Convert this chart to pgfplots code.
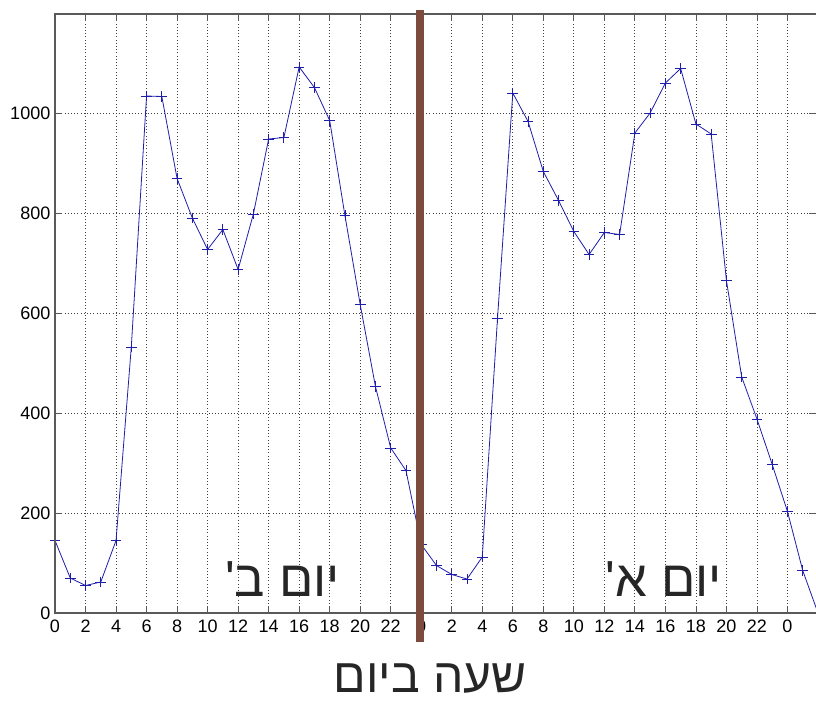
\documentclass[border=0pt]{standalone}
\usepackage{fontspec}
\setmainfont{Liberation Sans}
\newfontfamily\hebfont[Script=Hebrew]{Liberation Sans}
\usepackage{pgfplots}
\pgfplotsset{compat=1.18}
\TeXXeTstate=1
\definecolor{curve}{RGB}{30,30,170}
\definecolor{divider}{RGB}{125,74,62}

% hourly counts, two days in a row (day B first, then day A)
\pgfplotstableread{
h   v
0   145
1   70
2   55
3   62
4   145
5   532
6   1034
7   1033
8   869
9   790
10  727
11  767
12  687
13  798
14  948
15  951
16  1092
17  1051
18  985
19  795
20  617
21  453
22  330
23  285
24  137
25  95
26  77
27  68
28  112
29  590
30  1040
31  983
32  883
33  825
34  763
35  717
36  761
37  757
38  960
39  1000
40  1060
41  1089
42  978
43  958
44  665
45  472
46  388
47  297
48  203
49  85
50  0
}\counts

\begin{document}
\begin{tikzpicture}
\begin{axis}[
  scale only axis,
  width=570.75pt, height=449.25pt,
  xmin=0, xmax=49.87, ymin=0, ymax=1198,
  xtick={0,2,...,48},
  xticklabels={0,2,4,6,8,10,12,14,16,18,20,22,0,2,4,6,8,10,12,14,16,18,20,22,0},
  ytick={0,200,...,1000},
  tick align=inside,
  major tick length=5pt,
  tick style={black!65, line width=0.6pt},
  grid=major,
  grid style={dotted, black!75, line width=0.6pt},
  axis line style={draw=none},
  ticklabel style={font=\fontsize{13.5}{15}\selectfont},
  xticklabel style={yshift=-2pt},
  /pgf/number format/assume math mode=true,
  /pgf/number format/1000 sep={},
]
\addplot[curve, line width=0.6pt, mark=+, mark size=4pt,
  mark options={curve, line width=0.6pt}] table[x=h, y=v] {\counts};
\coordinate (bt) at (axis cs:23.92,1206);
\coordinate (bb) at (axis cs:23.92,-57);
\coordinate (lb) at (axis cs:14.9,33);
\coordinate (la) at (axis cs:39.9,33);
\coordinate (xl) at (axis cs:24.6,-158);
\end{axis}
\draw[black!65, line width=0.8pt] (current axis.south east) -- (current axis.south west)
  -- (current axis.north west) -- (current axis.north east);
\draw[divider, line width=6pt] (bt) -- (bb);
\node[anchor=base, text=black!85, font=\hebfont\fontsize{38}{42}\selectfont] at (lb) {'\beginR יום ב\endR};
\node[anchor=base, text=black!85, font=\hebfont\fontsize{38}{42}\selectfont] at (la) {'\beginR יום א\endR};
\node[anchor=base, text=black!85, font=\hebfont\fontsize{36}{40}\selectfont] at (xl) {\beginR שעה ביום\endR};
\pgfresetboundingbox
\path ([shift={(-41.25pt,-66pt)}]current axis.south west) rectangle ([shift={(0pt,10.5pt)}]current axis.north east);
\end{tikzpicture}
\end{document}
